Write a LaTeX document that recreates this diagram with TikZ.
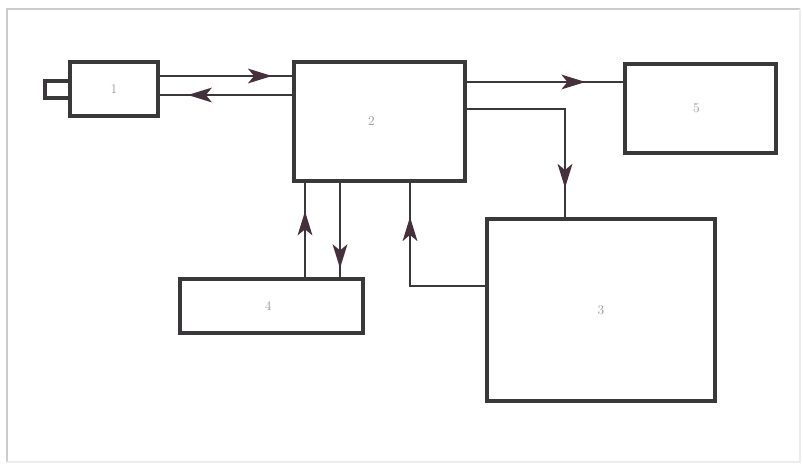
\documentclass[tikz,border=0pt]{standalone}
\usetikzlibrary{arrows.meta,decorations.markings}
\definecolor{lin}{HTML}{3A383A}
\definecolor{tip}{HTML}{45313B}
\tikzset{
    BX/.style ={rectangle,draw=lin,line width=3.3pt,inner sep=0pt,font=\normalsize,text=gray!75},
    CN/.style ={draw=lin,line width=1.7pt},
    AR/.style ={CN,decoration={markings,mark=at position #1 with {\arrow[tip]{Stealth[length=18pt,width=11pt,inset=4.5pt]}}},postaction={decorate}}}
\begin{document}
\begin{tikzpicture}[x=0.75pt,y=-0.75pt]
        \useasboundingbox (0,0) rectangle (803,471);
        \draw[gray!40,line width=1pt] (7,462)--(7,9)--(800,9);
        \draw[gray!15,line width=0.8pt] (7,462)--(800,462)--(800,9);
        % blocks
        \node[BX,minimum width=66pt,minimum height=40.5pt] (b1) at (114,89) {1};
        \node[BX,minimum width=128.25pt,minimum height=89.25pt] (b2) at (379.5,121.5) {\hspace*{-12pt}2};
        \node[BX,minimum width=113.25pt,minimum height=66.75pt] (b5) at (700.5,108.5) {\hspace*{-6pt}5};
        \node[BX,minimum width=171pt,minimum height=136.5pt] (b3) at (601,310) {3};
        \node[BX,minimum width=137.25pt,minimum height=40.5pt] (b4) at (271.5,306) {\hspace*{-5pt}4};
        \draw[lin,line width=2.8pt] (b1.west |- 0,81) -- (45,81) -- (45,98) -- (b1.west |- 0,98);
        % links
        \draw[AR=0.85] (b1.east |- 0,76) -- (b2.west |- 0,76);
        \draw[AR=0.79] (b2.west |- 0,95) -- (b1.east |- 0,95);
        \draw[AR=0.76] (b2.east |- 0,82) -- (b5.west |- 0,82);
        \draw[AR=0.86] (b2.east |- 0,109) -- (565,109) -- (b3.north -| 565,0);
        \draw[AR=0.70] (b4.north -| 305,0) -- (b2.south -| 305,0);
        \draw[AR=0.91] (b2.south -| 340,0) -- (b4.north -| 340,0);
        \draw[AR=0.81] (b3.west |- 0,286) -- (410,286) -- (b2.south -| 410,0);
    \end{tikzpicture}
\end{document}
